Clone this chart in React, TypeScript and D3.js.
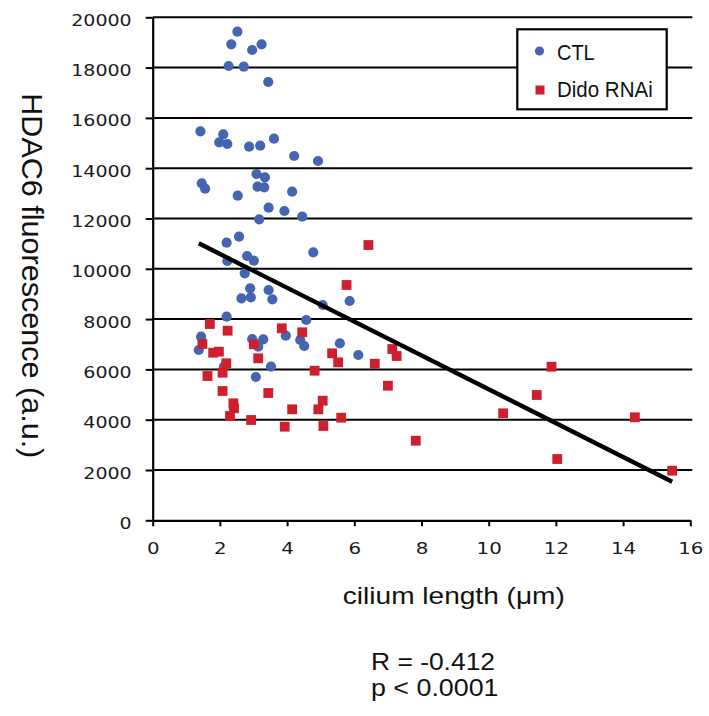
import React, { useRef, useEffect } from 'react';
import * as d3 from 'd3';

// CTL cells: cilium length (um) and HDAC6 fluorescence (a.u.)
const ctlLength = [
  2.52, 2.34, 3.24, 2.96, 2.26, 2.71, 3.44, 1.42, 2.1, 1.98, 2.22, 2.87, 3.2, 3.61, 4.21, 4.92,
  3.09, 3.34, 1.46, 1.56, 3.12, 3.32, 2.53, 4.15, 3.45, 3.92, 3.17, 4.45, 2.2, 2.57, 2.81, 3.01,
  2.22, 4.78, 2.74, 2.9, 2.64, 2.92, 3.45, 3.56, 5.06, 5.86, 2.2, 4.57, 3.96, 1.44, 2.96, 3.29,
  4.39, 4.51, 5.57, 1.37, 3.14, 6.12, 2.12, 3.52, 3.07,
];
const ctlHdac6 = [
  19427, 18926, 18926, 18700, 18064, 18036, 17427, 15467, 15348, 15030, 14962, 14855, 14895, 15173, 14485, 14286,
  13769, 13638, 13400, 13185, 13264, 13240, 12906, 13066, 12430, 12298, 11968, 12072, 11038, 11276, 10509, 10322,
  10310, 10656, 9821, 9225, 8827, 8867, 9157, 8787, 8561, 8720, 8095, 7964, 7340, 7300, 7209, 7197,
  7169, 6930, 7038, 6771, 6903, 6573, 6107, 6107, 5698,
];

// Dido RNAi cells
const didoLength = [
  5.77, 1.7, 2.23, 3.84, 4.45, 1.48, 3.01, 1.8, 1.97, 5.34, 5.52, 3.14, 2.19, 2.08, 1.63, 4.82,
  2.08, 3.44, 2.4, 2.42, 2.3, 4.15, 4.93, 5.06, 2.93, 3.93, 5.08, 5.61, 6.42, 6.61, 7.13, 7.26,
  7.0, 7.83, 10.43, 11.43, 11.87, 12.04, 14.35, 15.46,
];
const didoHdac6 = [
  9356, 7805, 7539, 7634, 7475, 7010, 7000, 6664, 6704, 6640, 6282, 6441, 6243, 5869, 5738, 5948,
  5141, 5062, 4652, 4453, 4147, 4413, 4413, 4756, 3988, 3722, 3750, 4080, 10946, 6227, 6811, 6533,
  5352, 3165, 4254, 4982, 6107, 2437, 4095, 1972,
];

const xTicks = [0, 2, 4, 6, 8, 10, 12, 14, 16];
const yTicks = [0, 2000, 4000, 6000, 8000, 10000, 12000, 14000, 16000, 18000, 20000];

// linear trend over both groups
const trendSlope = -672.7;
const trendIntercept = 11935;

const statsLines = ['R = -0.412', 'p < 0.0001'];
const statsWidths = [124, 127.5];

const BLUE = '#4564b1';
const RED = '#cf1f2f';

function App() {
  const svgRef = useRef(null);

  useEffect(() => {
    const svg = d3.select(svgRef.current);
    svg.selectAll('*').remove();

    const x = d3.scaleLinear().domain([0, 16]).range([152.7, 690.3]);
    const y = d3.scaleLinear().domain([0, 20000]).range([520.3, 17.3]);

    // horizontal grid
    svg
      .append('g')
      .selectAll('line')
      .data(yTicks.filter((t) => t > 0))
      .join('line')
      .attr('x1', x(0))
      .attr('x2', x(16) + 2)
      .attr('y1', (d) => y(d))
      .attr('y2', (d) => y(d))
      .attr('stroke', '#000')
      .attr('stroke-width', 2);

    // y axis
    const yAxis = svg
      .append('g')
      .attr('transform', `translate(${x(0)},0)`)
      .call(d3.axisLeft(y).tickValues(yTicks).tickSize(7).tickSizeOuter(0).tickPadding(14).tickFormat(d3.format('d')));
    yAxis.select('.domain').attr('stroke-width', 2.2);
    yAxis.selectAll('.tick line').attr('stroke-width', 2);
    yAxis
      .selectAll('.tick text')
      .attr('font-family', '"DejaVu Sans", Verdana, sans-serif')
      .attr('font-size', 16)
      .attr('fill', '#1a1a1a')
      .attr('dy', '0.5em')
      .attr('textLength', (d) => String(d).length * 12.1)
      .attr('lengthAdjust', 'spacingAndGlyphs');

    // x axis
    const xAxis = svg
      .append('g')
      .attr('transform', `translate(0,${y(0)})`)
      .call(d3.axisBottom(x).tickValues(xTicks).tickSize(6).tickSizeOuter(0).tickPadding(16.5));
    xAxis.select('.domain').attr('stroke-width', 2.2);
    xAxis.selectAll('.tick line').attr('stroke-width', 2);
    xAxis
      .selectAll('.tick text')
      .attr('font-family', '"DejaVu Sans", Verdana, sans-serif')
      .attr('font-size', 16)
      .attr('fill', '#1a1a1a')
      .attr('textLength', (d) => String(d).length * 12.6)
      .attr('lengthAdjust', 'spacingAndGlyphs');

    // CTL points
    svg
      .append('g')
      .selectAll('circle')
      .data(ctlLength.map((v, i) => [v, ctlHdac6[i]]))
      .join('circle')
      .attr('cx', (d) => x(d[0]))
      .attr('cy', (d) => y(d[1]))
      .attr('r', 5.1)
      .attr('fill', BLUE);

    // Dido RNAi points
    const sq = 9.8;
    svg
      .append('g')
      .selectAll('rect')
      .data(didoLength.map((v, i) => [v, didoHdac6[i]]))
      .join('rect')
      .attr('x', (d) => x(d[0]) - sq / 2)
      .attr('y', (d) => y(d[1]) - sq / 2)
      .attr('width', sq)
      .attr('height', sq)
      .attr('fill', RED);

    // trend line
    const ext = d3.extent(ctlLength.concat(didoLength));
    const trend = ext.map((v) => [v, trendIntercept + trendSlope * v]);
    svg
      .append('path')
      .attr('d', d3.line().x((d) => x(d[0])).y((d) => y(d[1]))(trend))
      .attr('stroke', '#000')
      .attr('stroke-width', 4.4)
      .attr('fill', 'none');

    // legend
    const legend = svg.append('g');
    legend
      .append('rect')
      .attr('x', 517.3)
      .attr('y', 29.3)
      .attr('width', 149.4)
      .attr('height', 80)
      .attr('fill', '#fff')
      .attr('stroke', '#000')
      .attr('stroke-width', 2.2);
    legend.append('circle').attr('cx', 539.5).attr('cy', 51).attr('r', 4.6).attr('fill', BLUE);
    legend.append('rect').attr('x', 535.5).attr('y', 85.5).attr('width', 9).attr('height', 9).attr('fill', RED);
    legend
      .selectAll('text')
      .data([
        ['CTL', 60, 37.7],
        ['Dido RNAi', 96.7, 95.7],
      ])
      .join('text')
      .attr('x', 557)
      .attr('y', (d) => d[1])
      .attr('textLength', (d) => d[2])
      .attr('lengthAdjust', 'spacingAndGlyphs')
      .attr('font-family', '"Liberation Sans", Arial, sans-serif')
      .attr('font-size', 22)
      .attr('fill', '#111')
      .text((d) => d[0]);

    // axis titles
    svg
      .append('text')
      .attr('transform', 'translate(21.7,275.8) rotate(90)')
      .attr('text-anchor', 'middle')
      .attr('font-family', '"Liberation Sans", Arial, sans-serif')
      .attr('font-size', 30)
      .attr('textLength', 365)
      .attr('lengthAdjust', 'spacingAndGlyphs')
      .attr('fill', '#111')
      .text('HDAC6 fluorescence (a.u.)');

    svg
      .append('text')
      .attr('x', 453.8)
      .attr('y', 604.3)
      .attr('text-anchor', 'middle')
      .attr('font-family', '"Liberation Sans", Arial, sans-serif')
      .attr('font-size', 24)
      .attr('textLength', 222)
      .attr('lengthAdjust', 'spacingAndGlyphs')
      .attr('fill', '#111')
      .text('cilium length (\u03bcm)');

    // correlation stats
    svg
      .append('g')
      .selectAll('text')
      .data(statsLines)
      .join('text')
      .attr('x', 371)
      .attr('y', (d, i) => 670 + i * 26)
      .attr('font-family', '"Liberation Sans", Arial, sans-serif')
      .attr('font-size', 23)
      .attr('textLength', (d, i) => statsWidths[i])
      .attr('lengthAdjust', 'spacingAndGlyphs')
      .attr('fill', '#111')
      .text((d) => d);
  }, []);

  return (
    <svg
      ref={svgRef}
      width={709}
      height={716}
      style={{ position: 'absolute', left: 0, top: 0, display: 'block', background: '#fff' }}
    />
  );
}

export default App;
